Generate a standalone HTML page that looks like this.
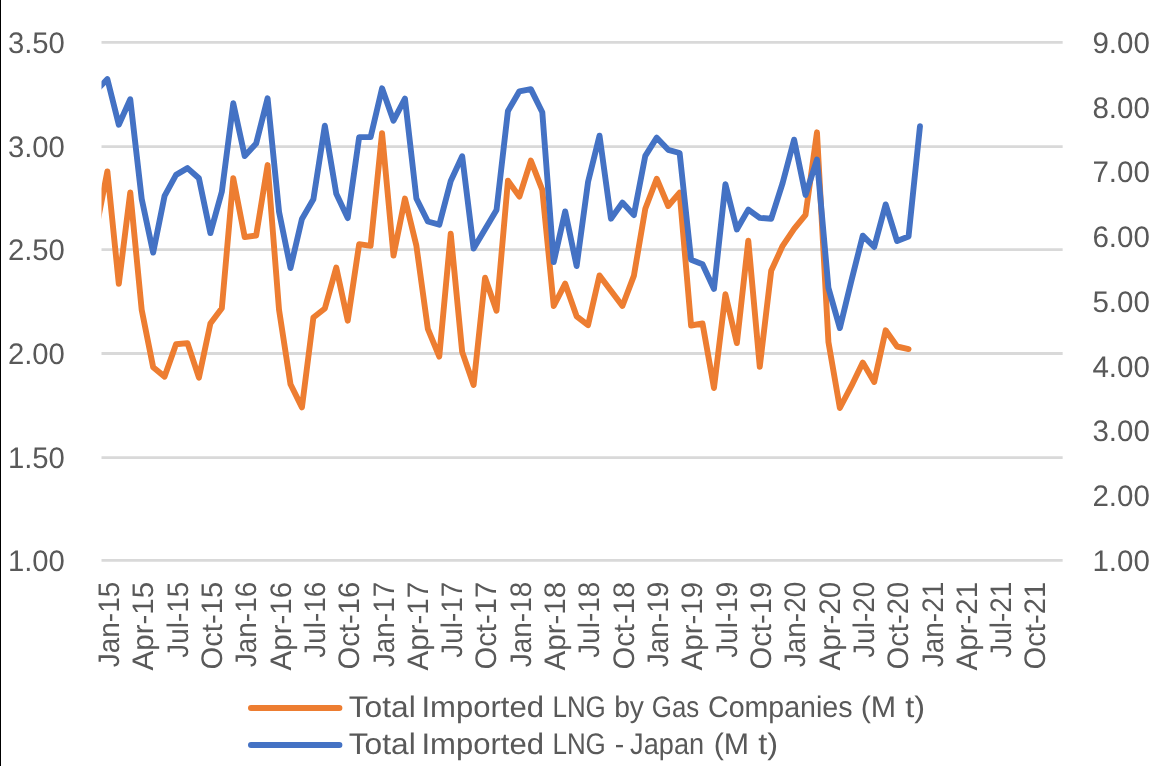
<!DOCTYPE html>
<html><head><meta charset="utf-8"><title>LNG imports</title>
<style>
html,body{margin:0;padding:0;background:#fff;}
body{width:1156px;height:766px;overflow:hidden;}
svg{display:block;will-change:transform;}
text{font-family:"Liberation Sans",sans-serif;fill:#595959;text-rendering:geometricPrecision;}
</style></head><body>
<svg width="1156" height="766" viewBox="0 0 1156 766">
<rect x="0" y="0" width="1156" height="766" fill="#fff"/>
<rect x="0" y="0" width="1" height="766" fill="#000"/>
<defs><clipPath id="plot"><rect x="101.50" y="30" width="960.75" height="540"/></clipPath></defs>
<line x1="101.50" y1="42.45" x2="1062.65" y2="42.45" stroke="#D9D9D9" stroke-width="2.8"/>
<line x1="101.50" y1="146.60" x2="1062.65" y2="146.60" stroke="#D9D9D9" stroke-width="2.8"/>
<line x1="101.50" y1="249.60" x2="1062.65" y2="249.60" stroke="#D9D9D9" stroke-width="2.8"/>
<line x1="101.50" y1="353.50" x2="1062.65" y2="353.50" stroke="#D9D9D9" stroke-width="2.8"/>
<line x1="101.50" y1="457.60" x2="1062.65" y2="457.60" stroke="#D9D9D9" stroke-width="2.8"/>
<line x1="101.50" y1="560.45" x2="1062.65" y2="560.45" stroke="#D9D9D9" stroke-width="2.8"/>
<text x="64.9" y="52.85" font-size="29.7" text-anchor="end" textLength="57.0" lengthAdjust="spacingAndGlyphs">3.50</text>
<text x="64.9" y="157.00" font-size="29.7" text-anchor="end" textLength="57.0" lengthAdjust="spacingAndGlyphs">3.00</text>
<text x="64.9" y="260.00" font-size="29.7" text-anchor="end" textLength="57.0" lengthAdjust="spacingAndGlyphs">2.50</text>
<text x="64.9" y="363.90" font-size="29.7" text-anchor="end" textLength="57.0" lengthAdjust="spacingAndGlyphs">2.00</text>
<text x="64.9" y="468.00" font-size="29.7" text-anchor="end" textLength="57.0" lengthAdjust="spacingAndGlyphs">1.50</text>
<text x="64.9" y="570.85" font-size="29.7" text-anchor="end" textLength="57.0" lengthAdjust="spacingAndGlyphs">1.00</text>
<text x="1149.9" y="52.85" font-size="29.7" text-anchor="end" textLength="57.5" lengthAdjust="spacingAndGlyphs">9.00</text>
<text x="1149.9" y="117.60" font-size="29.7" text-anchor="end" textLength="57.5" lengthAdjust="spacingAndGlyphs">8.00</text>
<text x="1149.9" y="182.35" font-size="29.7" text-anchor="end" textLength="57.5" lengthAdjust="spacingAndGlyphs">7.00</text>
<text x="1149.9" y="247.10" font-size="29.7" text-anchor="end" textLength="57.5" lengthAdjust="spacingAndGlyphs">6.00</text>
<text x="1149.9" y="311.85" font-size="29.7" text-anchor="end" textLength="57.5" lengthAdjust="spacingAndGlyphs">5.00</text>
<text x="1149.9" y="376.60" font-size="29.7" text-anchor="end" textLength="57.5" lengthAdjust="spacingAndGlyphs">4.00</text>
<text x="1149.9" y="441.35" font-size="29.7" text-anchor="end" textLength="57.5" lengthAdjust="spacingAndGlyphs">3.00</text>
<text x="1149.9" y="506.10" font-size="29.7" text-anchor="end" textLength="57.5" lengthAdjust="spacingAndGlyphs">2.00</text>
<text x="1149.9" y="570.85" font-size="29.7" text-anchor="end" textLength="57.5" lengthAdjust="spacingAndGlyphs">1.00</text>
<text transform="translate(119.00,581.8) rotate(-90)" font-size="29.7" text-anchor="end" x="0" y="0" textLength="85.4" lengthAdjust="spacingAndGlyphs">Jan-15</text>
<text transform="translate(153.31,581.8) rotate(-90)" font-size="29.7" text-anchor="end" x="0" y="0" textLength="88.6" lengthAdjust="spacingAndGlyphs">Apr-15</text>
<text transform="translate(187.62,581.8) rotate(-90)" font-size="29.7" text-anchor="end" x="0" y="0" textLength="75.9" lengthAdjust="spacingAndGlyphs">Jul-15</text>
<text transform="translate(221.94,581.8) rotate(-90)" font-size="29.7" text-anchor="end" x="0" y="0" textLength="87.7" lengthAdjust="spacingAndGlyphs">Oct-15</text>
<text transform="translate(256.25,581.8) rotate(-90)" font-size="29.7" text-anchor="end" x="0" y="0" textLength="85.4" lengthAdjust="spacingAndGlyphs">Jan-16</text>
<text transform="translate(290.56,581.8) rotate(-90)" font-size="29.7" text-anchor="end" x="0" y="0" textLength="88.6" lengthAdjust="spacingAndGlyphs">Apr-16</text>
<text transform="translate(324.88,581.8) rotate(-90)" font-size="29.7" text-anchor="end" x="0" y="0" textLength="75.9" lengthAdjust="spacingAndGlyphs">Jul-16</text>
<text transform="translate(359.19,581.8) rotate(-90)" font-size="29.7" text-anchor="end" x="0" y="0" textLength="87.7" lengthAdjust="spacingAndGlyphs">Oct-16</text>
<text transform="translate(393.50,581.8) rotate(-90)" font-size="29.7" text-anchor="end" x="0" y="0" textLength="85.4" lengthAdjust="spacingAndGlyphs">Jan-17</text>
<text transform="translate(427.81,581.8) rotate(-90)" font-size="29.7" text-anchor="end" x="0" y="0" textLength="88.6" lengthAdjust="spacingAndGlyphs">Apr-17</text>
<text transform="translate(462.12,581.8) rotate(-90)" font-size="29.7" text-anchor="end" x="0" y="0" textLength="75.9" lengthAdjust="spacingAndGlyphs">Jul-17</text>
<text transform="translate(496.44,581.8) rotate(-90)" font-size="29.7" text-anchor="end" x="0" y="0" textLength="87.7" lengthAdjust="spacingAndGlyphs">Oct-17</text>
<text transform="translate(530.75,581.8) rotate(-90)" font-size="29.7" text-anchor="end" x="0" y="0" textLength="85.4" lengthAdjust="spacingAndGlyphs">Jan-18</text>
<text transform="translate(565.06,581.8) rotate(-90)" font-size="29.7" text-anchor="end" x="0" y="0" textLength="88.6" lengthAdjust="spacingAndGlyphs">Apr-18</text>
<text transform="translate(599.38,581.8) rotate(-90)" font-size="29.7" text-anchor="end" x="0" y="0" textLength="75.9" lengthAdjust="spacingAndGlyphs">Jul-18</text>
<text transform="translate(633.69,581.8) rotate(-90)" font-size="29.7" text-anchor="end" x="0" y="0" textLength="87.7" lengthAdjust="spacingAndGlyphs">Oct-18</text>
<text transform="translate(668.00,581.8) rotate(-90)" font-size="29.7" text-anchor="end" x="0" y="0" textLength="85.4" lengthAdjust="spacingAndGlyphs">Jan-19</text>
<text transform="translate(702.31,581.8) rotate(-90)" font-size="29.7" text-anchor="end" x="0" y="0" textLength="88.6" lengthAdjust="spacingAndGlyphs">Apr-19</text>
<text transform="translate(736.62,581.8) rotate(-90)" font-size="29.7" text-anchor="end" x="0" y="0" textLength="75.9" lengthAdjust="spacingAndGlyphs">Jul-19</text>
<text transform="translate(770.94,581.8) rotate(-90)" font-size="29.7" text-anchor="end" x="0" y="0" textLength="87.7" lengthAdjust="spacingAndGlyphs">Oct-19</text>
<text transform="translate(805.25,581.8) rotate(-90)" font-size="29.7" text-anchor="end" x="0" y="0" textLength="85.4" lengthAdjust="spacingAndGlyphs">Jan-20</text>
<text transform="translate(839.56,581.8) rotate(-90)" font-size="29.7" text-anchor="end" x="0" y="0" textLength="88.6" lengthAdjust="spacingAndGlyphs">Apr-20</text>
<text transform="translate(873.88,581.8) rotate(-90)" font-size="29.7" text-anchor="end" x="0" y="0" textLength="75.9" lengthAdjust="spacingAndGlyphs">Jul-20</text>
<text transform="translate(908.19,581.8) rotate(-90)" font-size="29.7" text-anchor="end" x="0" y="0" textLength="87.7" lengthAdjust="spacingAndGlyphs">Oct-20</text>
<text transform="translate(942.50,581.8) rotate(-90)" font-size="29.7" text-anchor="end" x="0" y="0" textLength="85.4" lengthAdjust="spacingAndGlyphs">Jan-21</text>
<text transform="translate(976.81,581.8) rotate(-90)" font-size="29.7" text-anchor="end" x="0" y="0" textLength="88.6" lengthAdjust="spacingAndGlyphs">Apr-21</text>
<text transform="translate(1011.12,581.8) rotate(-90)" font-size="29.7" text-anchor="end" x="0" y="0" textLength="75.9" lengthAdjust="spacingAndGlyphs">Jul-21</text>
<text transform="translate(1045.44,581.8) rotate(-90)" font-size="29.7" text-anchor="end" x="0" y="0" textLength="87.7" lengthAdjust="spacingAndGlyphs">Oct-21</text>
<g clip-path="url(#plot)" fill="none" stroke-linejoin="round" stroke-linecap="round" stroke-width="5.90">
<polyline stroke="#ED7D31" points="95.93,230.00 107.37,171.40 118.81,283.90 130.26,192.40 141.70,309.90 153.15,367.20 164.59,376.60 176.04,344.30 187.49,343.10 198.93,377.60 210.38,323.50 221.82,308.30 233.27,178.30 244.71,237.10 256.16,235.50 267.60,165.10 279.05,309.90 290.49,384.20 301.94,407.40 313.38,317.50 324.83,308.50 336.27,267.60 347.72,320.70 359.16,244.20 370.61,245.80 382.05,133.10 393.50,255.60 404.95,198.60 416.39,245.80 427.84,328.90 439.28,356.60 450.73,233.70 462.17,351.90 473.62,385.00 485.06,277.70 496.51,310.70 507.95,180.70 519.40,196.60 530.84,160.60 542.29,189.90 553.73,306.00 565.18,283.70 576.62,316.30 588.07,325.10 599.51,275.40 610.96,290.80 622.40,306.00 633.85,275.90 645.30,208.80 656.74,178.70 668.19,206.00 679.63,192.60 691.08,325.50 702.52,323.50 713.97,388.00 725.41,294.30 736.86,343.10 748.30,240.70 759.75,366.80 771.19,270.80 782.64,245.80 794.08,228.90 805.53,214.90 816.97,132.30 828.42,341.90 839.86,408.00 851.31,386.20 862.76,362.60 874.20,382.00 885.65,330.30 897.09,346.50 908.54,349.10"/>
<polyline stroke="#4472C4" points="95.93,90.80 107.37,79.10 118.81,124.70 130.26,99.30 141.70,198.90 153.15,252.60 164.59,195.80 176.04,174.90 187.49,168.10 198.93,178.30 210.38,233.10 221.82,191.80 233.27,103.30 244.71,156.00 256.16,143.50 267.60,98.30 279.05,211.90 290.49,268.00 301.94,218.90 313.38,199.30 324.83,125.70 336.27,193.80 347.72,218.10 359.16,137.10 370.61,137.10 382.05,88.30 393.50,120.70 404.95,98.70 416.39,198.50 427.84,221.50 439.28,224.70 450.73,180.90 462.17,156.20 473.62,248.60 485.06,229.30 496.51,210.00 507.95,110.90 519.40,91.30 530.84,89.10 542.29,112.30 553.73,262.00 565.18,211.40 576.62,266.00 588.07,181.90 599.51,135.70 610.96,218.70 622.40,202.60 633.85,215.10 645.30,155.80 656.74,137.70 668.19,149.80 679.63,153.00 691.08,259.80 702.52,264.20 713.97,288.90 725.41,184.30 736.86,229.50 748.30,209.60 759.75,217.90 771.19,218.80 782.64,183.00 794.08,139.70 805.53,195.00 816.97,159.60 828.42,287.90 839.86,328.10 851.31,281.00 862.76,235.70 874.20,247.00 885.65,204.40 897.09,241.10 908.54,236.50 919.98,126.30"/>
</g>
<line x1="251.0" y1="708.1" x2="339.4" y2="708.1" stroke="#ED7D31" stroke-width="6.0" stroke-linecap="round"/>
<line x1="251.0" y1="745.0" x2="339.4" y2="745.0" stroke="#4472C4" stroke-width="6.0" stroke-linecap="round"/>
<text y="717" font-size="29.7"><tspan x="348.78" textLength="66.99" lengthAdjust="spacingAndGlyphs">Total</tspan> <tspan x="421.43" textLength="122.61" lengthAdjust="spacingAndGlyphs">Imported</tspan> <tspan x="552.46" textLength="53.35" lengthAdjust="spacingAndGlyphs">LNG</tspan> <tspan x="614.16" textLength="29.80" lengthAdjust="spacingAndGlyphs">by</tspan> <tspan x="651.87" textLength="47.39" lengthAdjust="spacingAndGlyphs">Gas</tspan> <tspan x="708.00" textLength="144.55" lengthAdjust="spacingAndGlyphs">Companies</tspan> <tspan x="860.68" textLength="35.51" lengthAdjust="spacingAndGlyphs">(M</tspan> <tspan x="905.29" textLength="19.87" lengthAdjust="spacingAndGlyphs">t)</tspan></text>
<text y="754" font-size="29.7"><tspan x="348.78" textLength="66.99" lengthAdjust="spacingAndGlyphs">Total</tspan> <tspan x="421.43" textLength="122.61" lengthAdjust="spacingAndGlyphs">Imported</tspan> <tspan x="552.46" textLength="53.35" lengthAdjust="spacingAndGlyphs">LNG</tspan> <tspan x="614.73" textLength="9.46" lengthAdjust="spacingAndGlyphs">-</tspan> <tspan x="630.12" textLength="74.04" lengthAdjust="spacingAndGlyphs">Japan</tspan> <tspan x="713.69" textLength="35.39" lengthAdjust="spacingAndGlyphs">(M</tspan> <tspan x="758.29" textLength="19.87" lengthAdjust="spacingAndGlyphs">t)</tspan></text>
</svg>
</body></html>
